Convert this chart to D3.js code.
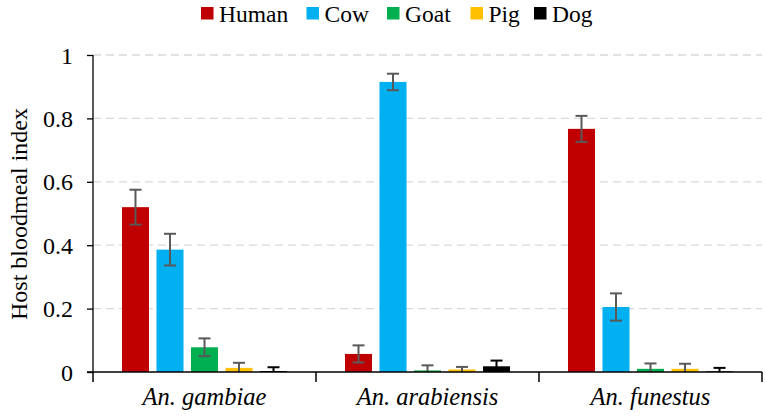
<!DOCTYPE html>
<html><head><meta charset="utf-8">
<script src="https://cdn.jsdelivr.net/npm/d3@7"></script>
<style>body{margin:0;background:#fff}svg{display:block}</style>
</head><body>
<svg id="c" width="765" height="417" font-family="Liberation Serif"></svg>
<script>
const categories = ["An. gambiae", "An. arabiensis", "An. funestus"];
const hosts = ["Human", "Cow", "Goat", "Pig", "Dog"];
const colors = ["#C00000", "#00B0F0", "#00B050", "#FFC000", "#000000"];
const human = [0.52, 0.057, 0.767];
const cow = [0.386, 0.915, 0.205];
const goat = [0.078, 0.005, 0.010];
const pig = [0.013, 0.008, 0.010];
const dog = [0.003, 0.018, 0.002];
const humanErr = [0.055, 0.027, 0.041];
const cowErr = [0.05, 0.026, 0.043];
const goatErr = [0.028, 0.016, 0.017];
const pigErr = [0.016, 0.008, 0.016];
const dogErr = [0.012, 0.018, 0.011];
const yTicks = [0, 0.2, 0.4, 0.6, 0.8, 1];
const yTickLabels = ["0", "0.2", "0.4", "0.6", "0.8", "1"];

const values = [human, cow, goat, pig, dog];
const errs = [humanErr, cowErr, goatErr, pigErr, dogErr];

const svg = d3.select("#c");
const mLeft = 93, mRight = 762, mTop = 55, mBottom = 372;
const x0 = d3.scaleBand().domain(categories).range([mLeft, mRight]).padding(0);
const x1 = d3.scaleBand().domain(hosts).range([0, x0.bandwidth()]).paddingInner(0.217).paddingOuter(0.84);
const y = d3.scaleLinear().domain([0, 1]).range([mBottom, mTop]);
const font = "Liberation Serif";

// gridlines
svg.append("g").selectAll("line").data(yTicks.filter(d => d > 0)).join("line")
  .attr("x1", mLeft).attr("x2", mRight).attr("y1", d => y(d)).attr("y2", d => y(d))
  .attr("stroke", "#D9D9D9").attr("stroke-width", 1.3).attr("stroke-dasharray", "8,5");

// bars
const data = [];
categories.forEach((c, ci) => hosts.forEach((h, hi) => data.push({c, h, hi, v: values[hi][ci], e: errs[hi][ci]})));
svg.append("g").selectAll("rect").data(data).join("rect")
  .attr("x", d => x0(d.c) + x1(d.h)).attr("width", x1.bandwidth())
  .attr("y", d => y(d.v)).attr("height", d => y(0) - y(d.v))
  .attr("fill", d => colors[d.hi]);

// error bars
const eg = svg.append("g").attr("stroke-width", 2);
data.forEach(d => {
  const cx = x0(d.c) + x1(d.h) + x1.bandwidth() / 2;
  const lo = Math.max(0, d.v - d.e), hi = d.v + d.e;
  const col = d.hi === 4 ? "#000" : "#595959";
  eg.append("line").attr("x1", cx).attr("x2", cx).attr("y1", y(lo)).attr("y2", y(hi)).attr("stroke", col);
  eg.append("line").attr("x1", cx - 6).attr("x2", cx + 6).attr("y1", y(hi)).attr("y2", y(hi)).attr("stroke", col);
  if (d.v - d.e > 0) eg.append("line").attr("x1", cx - 6).attr("x2", cx + 6).attr("y1", y(lo)).attr("y2", y(lo)).attr("stroke", col);
});

// y axis
const yAxis = d3.axisLeft(y).tickValues(yTicks).tickFormat((d, i) => yTickLabels[i]).tickSize(6).tickPadding(14);
const ya = svg.append("g").attr("transform", `translate(${mLeft},0)`).call(yAxis);
ya.attr("font-family", font).attr("font-size", 24);
ya.select(".domain").attr("d", `M0,${mTop}V${mBottom}`).attr("stroke", "#000").attr("stroke-width", 1.3);
ya.selectAll(".tick line").attr("stroke", "#000").attr("stroke-width", 1.3);
ya.selectAll(".tick text").attr("font-family", font).attr("font-size", 24).attr("fill", "#000").attr("dy", "0.34em");

// x axis
svg.append("line").attr("x1", mLeft - 6).attr("x2", mRight).attr("y1", mBottom).attr("y2", mBottom)
  .attr("stroke", "#000").attr("stroke-width", 1.5);
const seps = categories.map(c => x0(c)).concat([x0(categories[2]) + x0.bandwidth()]);
svg.append("g").selectAll("line").data(seps).join("line")
  .attr("x1", d => d).attr("x2", d => d).attr("y1", mBottom).attr("y2", mBottom + 10)
  .attr("stroke", "#000").attr("stroke-width", 1.5);
svg.append("g").selectAll("text").data(categories).join("text")
  .attr("x", d => x0(d) + x0.bandwidth() / 2).attr("y", 405)
  .attr("text-anchor", "middle").attr("font-family", font).attr("font-style", "italic")
  .attr("font-size", 24.5).text(d => d);

// y title
svg.append("text").attr("transform", "translate(27,214) rotate(-90)")
  .attr("text-anchor", "middle").attr("font-family", font).attr("font-size", 24).text("Host bloodmeal index");

// legend
const legX = [201, 306.5, 387, 470.5, 534];
const lg = svg.append("g");
hosts.forEach((h, i) => {
  lg.append("rect").attr("x", legX[i]).attr("y", 7).attr("width", 12.5).attr("height", 12.5).attr("fill", colors[i]);
  lg.append("text").attr("x", legX[i] + 18).attr("y", 22).attr("font-family", font).attr("font-size", 23.5).text(h);
});
</script>
</body></html>
